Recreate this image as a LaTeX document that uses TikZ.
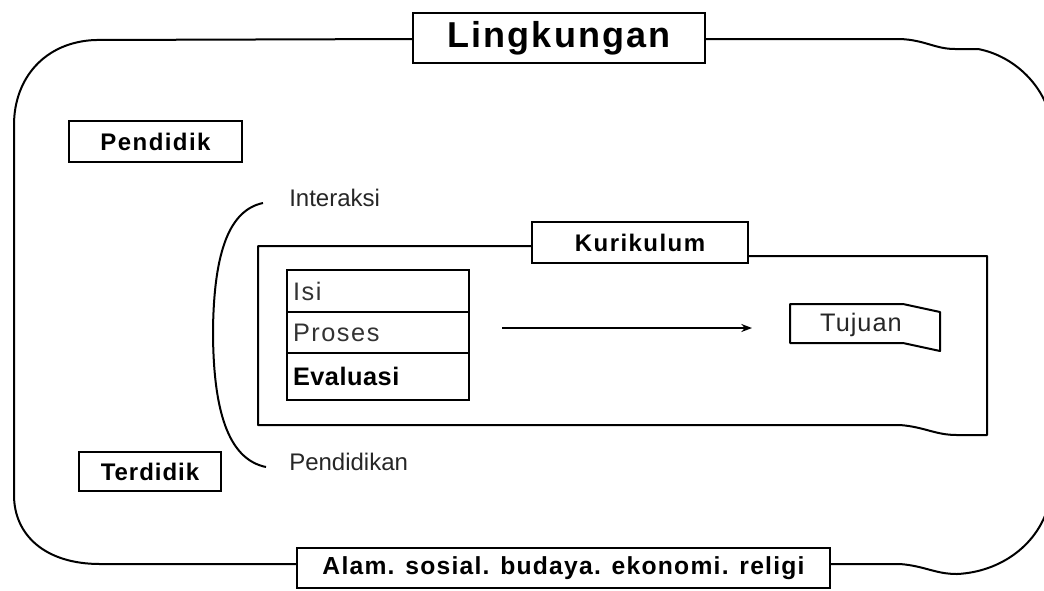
\documentclass[tikz,border=0pt]{standalone}
\usepackage{fontspec}
\setmainfont{Liberation Sans}
\usetikzlibrary{arrows.meta}
\tikzset{
  box/.style={draw, line width=1.5pt, fill=white, inner sep=0pt, align=center},
  cell/.style={draw, line width=1.4pt, inner sep=0pt, minimum width=182*0.75pt, text width=170*0.75pt, align=left},
  lbl/.style={inner sep=0pt, anchor=west},
  ln/.style={line width=1.5pt, line join=round}
}
\begin{document}
\begin{tikzpicture}[x=0.75pt,y=-0.75pt]
\useasboundingbox (0,0) rectangle (1044,590);
% outer environment boundary
\draw[ln] (413,39) -- (95,40) .. controls (45,42) and (14,78) .. (14,125)
  -- (14,495) .. controls (14,535) and (45,564) .. (100,564) -- (297,564);
\draw[ln] (705,39) -- (900,39) .. controls (925,40) and (935,49) .. (955,49)
  -- (978,49) .. controls (1010,55) and (1040,80) .. (1050,115) -- (1050,500);
\draw[ln] (830,564) -- (900,564) .. controls (925,566) and (935,574) .. (957,574)
  .. controls (1000,572) and (1040,545) .. (1050,500);
% curriculum frame
\draw[ln] (532,246) -- (258,246) -- (258,425) -- (900,425)
  .. controls (925,427) and (935,435) .. (957,435) -- (987,435) -- (987,256) -- (748,256);
% bracket
\draw[ln] (263,203) .. controls (230,210) and (214,250) .. (213,330)
  .. controls (213,420) and (232,460) .. (266,467);
% nodes
\node[box, minimum width=292*0.75pt, minimum height=50*0.75pt, font=\bfseries\fontsize{27}{27}\selectfont\addfontfeature{LetterSpace=6}] (ling) at (559,38) {Lingkungan};
\node[box, minimum width=173*0.75pt, minimum height=41*0.75pt, font=\bfseries\fontsize{18}{18}\selectfont\addfontfeature{LetterSpace=6}] (pendidik) at (155.5,141.5) {Pendidik};
\node[box, minimum width=142*0.75pt, minimum height=39*0.75pt, font=\bfseries\fontsize{18}{18}\selectfont\addfontfeature{LetterSpace=4}] (terdidik) at (150,471.5) {Terdidik};
\node[box, minimum width=216*0.75pt, minimum height=41*0.75pt, font=\bfseries\fontsize{18}{18}\selectfont\addfontfeature{LetterSpace=6}] (kur) at (640,242.5) {Kurikulum};
\node[box, minimum width=533*0.75pt, minimum height=40*0.75pt, font=\bfseries\fontsize{18.5}{18.5}\selectfont\addfontfeature{LetterSpace=5}] (alam) at (563.5,568) {Alam. sosial. budaya. ekonomi. religi};
\node[lbl, font=\fontsize{18}{18}\selectfont, text=black!85] (interaksi) at (289,198) {Interaksi};
\node[lbl, font=\fontsize{18}{18}\selectfont, text=black!85] (pendidikan) at (289,462) {Pendidikan};
% content stack
\node[cell, minimum height=42*0.75pt, font=\fontsize{19}{19}\selectfont\addfontfeature{LetterSpace=6}, text=black!80] (isi) at (378,291) {Isi};
\node[cell, minimum height=41*0.75pt, font=\fontsize{19}{19}\selectfont\addfontfeature{LetterSpace=6}, text=black!80] (proses) at (378,332.5) {Proses};
\node[cell, minimum height=47*0.75pt, font=\bfseries\fontsize{19}{19}\selectfont\addfontfeature{LetterSpace=2}] (evaluasi) at (378,376.5) {Evaluasi};
% tujuan
\draw[ln] (790,304) -- (903,304) -- (940,312) -- (940,351) -- (903,343) -- (790,343) -- cycle;
\node[inner sep=0pt, font=\fontsize{19}{19}\selectfont\addfontfeature{LetterSpace=4}, text=black!85] (tujuan) at (861,325) {Tujuan};
% arrow
\coordinate (a1) at (502,328);
\coordinate (a2) at (752,328);
\draw[line width=1.3pt, -{Stealth[length=8pt,width=6pt]}] (a1) -- (a2);
\end{tikzpicture}
\end{document}
